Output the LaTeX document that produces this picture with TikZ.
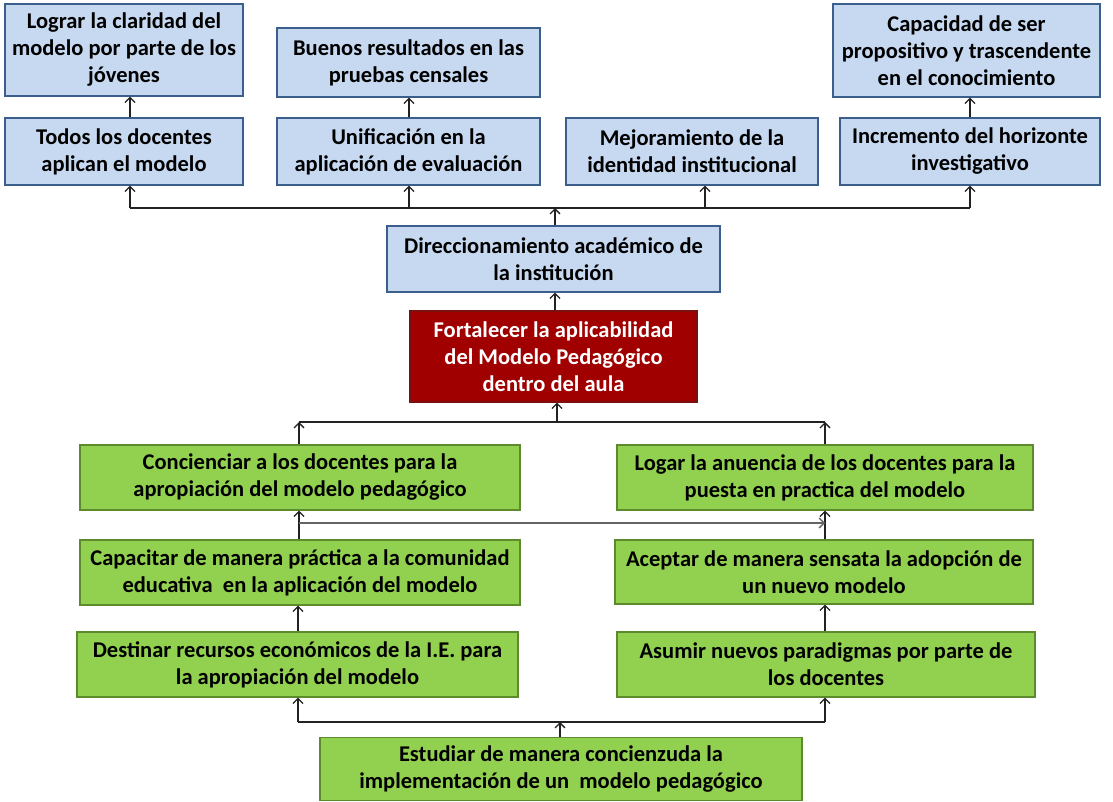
\documentclass[tikz,border=0pt]{standalone}
\usepackage{fontspec}
\setmainfont{Carlito}
\usetikzlibrary{arrows.meta}
\definecolor{bluefill}{HTML}{C6D9F1}
\definecolor{blueedge}{HTML}{3B5E8C}
\definecolor{greenfill}{HTML}{92D050}
\definecolor{greenedge}{HTML}{5E8A2E}
\definecolor{redfill}{HTML}{A00000}
\definecolor{rededge}{HTML}{7A1010}
\definecolor{linecol}{HTML}{222222}
\begin{document}
\begin{tikzpicture}[x=1pt,y=-1pt,
  base/.style={draw, line width=1.2pt, align=center, inner sep=1pt, font=\bfseries\fontsize{22.5}{27}\selectfont},
  bluebox/.style={base, fill=bluefill, draw=blueedge},
  greenbox/.style={base, fill=greenfill, draw=greenedge},
  redbox/.style={base, fill=redfill, draw=rededge, text=white},
  arr/.style={draw=linecol, line width=1.3pt, -{Straight Barb[length=5pt,width=10pt,line width=1.3pt]}},
  bus/.style={draw=linecol, line width=1.3pt}]
\useasboundingbox (0,0) rectangle (1113,802);
% top row
\node[bluebox, minimum width=238pt, minimum height=92pt] (lograr) at (124,50) {Lograr la claridad del\\modelo por parte de los\\jóvenes};
\node[bluebox, minimum width=263pt, minimum height=69pt] (buenos) at (408.5,62.5) {Buenos resultados en las\\pruebas censales};
\node[bluebox, minimum width=267pt, minimum height=93pt] (capac) at (966.5,50.5) {Capacidad de ser\\propositivo y trascendente\\en el conocimiento};
% second row
\node[bluebox, minimum width=238pt, minimum height=67pt] (todos) at (124,151.5) {Todos los docentes\\aplican el modelo};
\node[bluebox, minimum width=263pt, minimum height=67pt] (unif) at (408.5,151.5) {Unificación en la\\aplicación de evaluación};
\node[bluebox, minimum width=252pt, minimum height=67pt] (mejor) at (692,151.5) {Mejoramiento de la\\identidad institucional};
\node[bluebox, minimum width=260pt, minimum height=67pt] (incr) at (970,151.5) {Incremento del horizonte\\investigativo};
% center
\node[bluebox, minimum width=333pt, minimum height=66pt] (direc) at (553.5,259) {Direccionamiento académico de\\la institución};
\node[redbox, minimum width=287pt, minimum height=91pt] (fort) at (553.5,356.5) {Fortalecer la aplicabilidad\\del Modelo Pedagógico\\dentro del aula};
% green
\node[greenbox, minimum width=440pt, minimum height=65pt] (conc) at (300,477.5) {Concienciar a los docentes para la\\apropiación del modelo pedagógico};
\node[greenbox, minimum width=416pt, minimum height=65pt] (logar) at (825,477.5) {Logar la anuencia de los docentes para la\\puesta en practica del modelo};
\node[greenbox, minimum width=440pt, minimum height=65pt] (capt) at (300,572.5) {Capacitar de manera práctica a la comunidad\\educativa \ en la aplicación del modelo};
\node[greenbox, minimum width=418pt, minimum height=64pt] (acept) at (824,572) {Aceptar de manera sensata la adopción de\\un nuevo modelo};
\node[greenbox, minimum width=441pt, minimum height=65pt] (dest) at (297.5,664.5) {Destinar recursos económicos de la I.E. para\\la apropiación del modelo};
\node[greenbox, minimum width=418pt, minimum height=65pt] (asum) at (826,664.5) {Asumir nuevos paradigmas por parte de\\los docentes};
\node[greenbox, minimum width=482pt, minimum height=63pt] (estud) at (561,769) {Estudiar de manera concienzuda la\\implementación de un \ modelo pedagógico};
% top bus
\coordinate (tb1) at (130,208);
\coordinate (tb2) at (409,208);
\coordinate (tb3) at (555,208);
\coordinate (tb4) at (705,208);
\coordinate (tb5) at (970,208);
\draw[bus] (tb1) -- (tb5);
\draw[arr] (direc.north -| tb3) -- (tb3);
\draw[arr] (tb1) -- (todos.south -| tb1);
\draw[arr] (tb2) -- (unif.south -| tb2);
\draw[arr] (tb4) -- (mejor.south -| tb4);
\draw[arr] (tb5) -- (incr.south -| tb5);
\draw[arr] (todos.north -| tb1) -- (lograr.south -| tb1);
\draw[arr] (unif.north -| tb2) -- (buenos.south -| tb2);
\draw[arr] (incr.north -| tb5) -- (capac.south -| tb5);
\draw[arr] (fort.north -| tb3) -- (direc.south -| tb3);
% middle bus
\coordinate (mb1) at (299,422);
\coordinate (mb2) at (557,422);
\coordinate (mb3) at (825,422);
\draw[bus] (mb1) -- (mb3);
\draw[arr] (conc.north -| mb1) -- (mb1);
\draw[arr] (logar.north -| mb3) -- (mb3);
\draw[arr] (mb2) -- (fort.south -| mb2);
% cross links
\coordinate (cr1) at (299,523);
\coordinate (cr2) at (825,523);
\draw[arr] (capt.north -| cr1) -- (conc.south -| cr1);
\draw[arr] (acept.north -| cr2) -- (logar.south -| cr2);
\draw[arr, draw=linecol!70] (cr1) -- (cr2);
% lower links
\coordinate (bb1) at (298,722);
\coordinate (bb2) at (560,722);
\coordinate (bb3) at (825,722);
\draw[arr] (dest.north -| bb1) -- (capt.south -| bb1);
\draw[arr] (asum.north -| bb3) -- (acept.south -| bb3);
\draw[bus] (bb1) -- (bb3);
\draw[arr] (estud.north -| bb2) -- (bb2);
\draw[arr] (bb1) -- (dest.south -| bb1);
\draw[arr] (bb3) -- (asum.south -| bb3);
\end{tikzpicture}
\end{document}
